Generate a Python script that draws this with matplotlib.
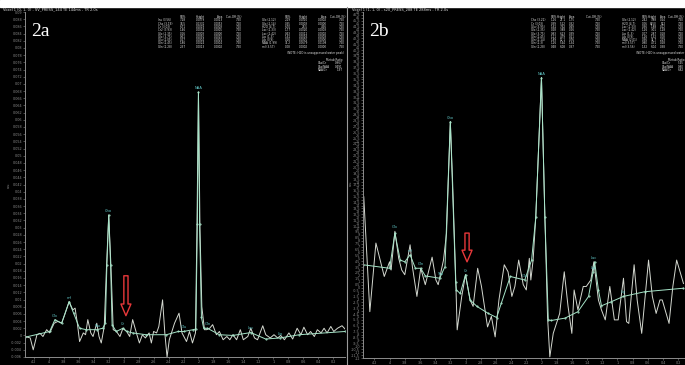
import matplotlib.pyplot as plt
import numpy as np

W, H = 685, 365

# ---------------- panel 2a ----------------
# raw spectrum (ppm, signal x 1e-3)
ppm_a = [4.32, 4.25, 4.21, 4.16, 4.12, 4.08, 4.03, 3.99, 3.93, 3.88, 3.83, 3.79, 3.73, 3.68,
         3.65, 3.62, 3.59, 3.54, 3.51, 3.48, 3.44, 3.41, 3.36, 3.33, 3.30, 3.26, 3.23, 3.20,
         3.17, 3.14, 3.10, 3.05, 3.01, 2.96, 2.92, 2.88, 2.83, 2.79, 2.75, 2.71, 2.66, 2.63,
         2.60, 2.56, 2.53, 2.48, 2.45, 2.42, 2.39, 2.32, 2.26, 2.22, 2.16, 2.12, 2.08, 2.04,
         2.02, 2.00, 1.98, 1.955, 1.92, 1.89, 1.85, 1.81, 1.76, 1.72, 1.67, 1.62, 1.58, 1.54,
         1.49, 1.44, 1.40, 1.34, 1.30, 1.25, 1.21, 1.14, 1.10, 1.04, 0.99, 0.94, 0.90, 0.85,
         0.79, 0.74, 0.68, 0.63, 0.59, 0.54, 0.50, 0.45, 0.41, 0.36, 0.32, 0.28, 0.23, 0.19,
         0.14, 0.08, 0.04]
raw_a = [-0.3, -0.7, -4.0, 0.2, 0.6, -0.3, 1.6, 0.7, 3.4, 3.9, 3.4, 5.7, 9.4, 7.1,
         7.6, 3.4, -1.7, 0.7, 0.2, 4.4, 0.7, -0.3, 3.4, -0.3, -2.1, 2.5, 19.0, 33.5,
         19.0, 1.6, 1.2, -0.3, 2.0, 1.1, -0.3, 4.4, 0.7, -2.1, 0.2, -0.7, 0.7, -2.1,
         1.1, 0.7, 2.5, 9.9, 0.7, -6.0, -1.2, 3.4, 6.2, 0.7, -1.7, 1.1, -2.1, 0.7,
         30.0, 67.7, 30.0, 8.0, 1.6, 1.6, 2.0, 3.0, 0.2, 1.1, -1.2, -0.3, -1.2, 0.2,
         -1.2, 1.6, -1.2, -0.3, 2.0, -0.7, -1.2, 2.7, 0.2, -0.7, 0.2, -0.7, 0.0, -1.2,
         0.7, -1.0, 2.0, 0.2, 2.3, 0.2, 1.1, -0.3, 1.6, 0.7, 2.0, 0.7, 2.5, 1.1,
         2.0, 2.7, 1.8]
# fitted spectrum
fit_ppm_a = [4.32, 3.99, 3.92, 3.83, 3.73, 3.67, 3.59, 3.50, 3.36, 3.28, 3.245, 3.225, 3.20,
             3.175, 3.155, 3.10, 3.01, 2.96, 2.88, 2.70, 2.43, 2.27, 2.20, 2.07, 2.035, 2.015,
             2.00, 1.985, 1.96, 1.93, 1.88, 1.72, 1.54, 1.30, 1.10, 0.91, 0.65, 0.04]
fit_a = [-0.5, 1.1, 4.4, 3.4, 9.4, 6.2, 2.0, 1.6, 1.6, 2.0, 3.5, 19.5, 33.5,
         19.5, 3.0, 1.1, 2.0, 1.1, 0.7, 0.2, 0.2, 1.1, 1.1, 1.6, 1.8, 31.0,
         67.7, 31.0, 5.0, 2.0, 2.0, 0.2, 0.0, 0.8, -1.0, -0.7, 0.2, 1.1]
lab_ppm_a = [3.92, 3.73, 3.36, 3.20, 3.01, 2.20, 2.00, 1.88, 1.30, 0.91]
lab_val_a = [4.4, 9.4, 1.6, 33.5, 2.0, 1.1, 67.7, 2.0, 0.8, -0.7]
lab_txt_a = ["Glx", "mI", "Tau", "Cho", "Cr", "Glu", "NAA", "Gln", "Lac", "Lip"]

# ---------------- panel 2b ----------------
ppm_b = [4.34, 4.26, 4.18, 4.07, 4.00, 3.98, 3.93, 3.88, 3.84, 3.80, 3.73, 3.70, 3.64, 3.59,
         3.53, 3.44, 3.39, 3.36, 3.29, 3.25, 3.23, 3.20, 3.17, 3.13, 3.11, 3.05, 3.00, 2.94,
         2.90, 2.84, 2.79, 2.71, 2.66, 2.61, 2.56, 2.49, 2.44, 2.39, 2.35, 2.30, 2.24, 2.20,
         2.16, 2.14, 2.11, 2.075, 2.00, 1.955, 1.92, 1.89, 1.845, 1.76, 1.70, 1.65, 1.60, 1.57,
         1.52, 1.45, 1.41, 1.35, 1.31, 1.25, 1.21, 1.16, 1.10, 1.04, 0.99, 0.92, 0.88, 0.85,
         0.78, 0.74, 0.68, 0.59, 0.54, 0.49, 0.44, 0.41, 0.32, 0.27, 0.22, 0.13]
raw_b = [15.5, -4.1, 7.6, 1.9, 4.4, 3.0, 9.6, 5.0, 3.0, 2.2, 7.3, 3.6, -1.5, 3.3,
         0.5, 5.2, 1.3, 0.5, 4.7, 9.3, 17.0, 28.3, 18.0, 1.9, -7.2, -1.5, 2.2, -2.1,
         -3.2, 3.3, 0.2, -6.7, -4.9, -8.4, -2.1, 3.9, 2.7, -1.5, 0.2, 4.7, 0.5, -0.4,
         5.0, 1.3, 4.7, 12.0, 35.8, 12.0, -5.0, -11.8, -7.8, -4.4, 2.7, -3.2, -7.8, -0.4,
         -3.8, 0.2, 0.2, 1.3, 4.4, -2.1, -3.8, -5.5, 0.2, -5.5, -5.5, 1.6, -5.8, -6.1,
         3.9, -2.1, -7.8, 4.7, -1.5, -4.4, -2.1, -2.1, -6.1, 0.2, 4.7, 0.7]
fit_ppm_b = [4.35, 4.00, 3.93, 3.86, 3.80, 3.73, 3.66, 3.59, 3.53, 3.34, 3.27, 3.20, 3.13,
             3.12, 3.07, 3.00, 2.94, 2.85, 2.70, 2.59, 2.53, 2.41, 2.22, 2.13, 2.075, 2.00,
             1.955, 1.91, 1.87, 1.69, 1.52, 1.38, 1.32, 1.30, 1.25, 1.21, 1.08, 0.92, 0.64, 0.13]
fit_b = [3.9, 3.3, 9.3, 4.7, 4.4, 5.6, 3.3, 3.3, 2.0, 1.6, 3.6, 28.3, 1.0,
         -0.4, -1.0, 2.2, -2.1, -3.2, -4.4, -5.1, -2.7, 1.9, 1.3, 4.7, 12.0, 35.8,
         12.0, -5.5, -5.6, -5.2, -4.1, -1.5, 2.7, 4.4, -0.4, -3.1, -2.4, -1.5, -0.7, -0.1]
lab_ppm_b = [3.93, 3.73, 3.59, 3.34, 3.20, 3.00, 2.22, 2.00, 1.31, 1.32, 0.92]
lab_val_b = [9.6, 5.6, 3.3, 1.6, 28.3, 2.2, 1.3, 35.8, 4.4, 2.7, -1.5]
lab_txt_b = ["Glx", "mI", "Gln", "Tau", "Cho", "Cr", "Glu", "NAA", "Lac", "Lip", "Lip"]

xticks = [4.2, 4.0, 3.8, 3.6, 3.4, 3.2, 3.0, 2.8, 2.6, 2.4, 2.2, 2.0, 1.8, 1.6, 1.4, 1.2,
          1.0, 0.8, 0.6, 0.4, 0.2]

# quantitation tables (text only)
tab_head = ["SD%", "Height", "Area", "Cut-Off (%)"]
tab_a1 = [["Ins (3.56)", "7.28", "0.0079", "0.0013", "7.50"],
          ["Cho (3.19)", "38.5", "0.0331", "0.0053", "7.50"],
          ["Cr (3.03)", "6.71", "0.0019", "0.0003", "7.50"],
          ["Cr2 (3.93)", "1.46", "0.0034", "0.0005", "7.50"],
          ["Glx (2.35)", "0.16", "0.0003", "0.0000", "7.50"],
          ["Glx (3.75)", "0.61", "0.0091", "0.0015", "7.50"],
          ["Glu (2.05)", "0.27", "0.0004", "0.0001", "7.50"],
          ["Gln (2.45)", "1.86", "0.0024", "0.0004", "7.50"],
          ["Gln (2.28)", "2.37", "0.0013", "0.0002", "7.50"]]
tab_a2 = [["Glx (2.12)", "2.19", "0.0010", "0.0002", "7.50"],
          ["Glx (2.14)", "0.35", "0.0003", "0.0000", "7.50"],
          ["H2O (4.7)", "6.70", "28.5", "4.56", "7.50"],
          ["Lac (1.33)", "1.77", "0.0020", "0.0003", "7.50"],
          ["Lac (1.42)", "0.43", "0.0012", "0.0002", "7.50"],
          ["Lip (1.3)", "1.61", "0.0016", "0.0003", "7.50"],
          ["Lip (0.9)", "0.16", "0.0001", "0.0000", "7.50"],
          ["NAA (1.99)", "35.2", "0.0679", "0.0108", "7.50"],
          ["ml (3.57)", "0.08", "0.0002", "0.0000", "7.50"]]
tab_b1 = [["Cho (3.21)", "1.16", "27.1", "1.75", "7.50"],
          ["Cr (3.03)", "0.39", "5.22", "0.32", "7.50"],
          ["Glu (3.95)", "1.61", "7.62", "0.49", "7.50"],
          ["Glx (2.35)", "0.28", "3.88", "0.26", "7.50"],
          ["Glx (3.75)", "0.83", "6.23", "0.39", "7.50"],
          ["Gln (2.45)", "1.11", "4.79", "0.21", "7.50"],
          ["Gln (2.14)", "1.89", "12.1", "0.76", "7.50"],
          ["Gln (2.3)", "1.26", "5.44", "1.34", "7.50"],
          ["Gln (2.28)", "0.48", "6.08", "0.37", "7.50"]]
tab_b2 = [["Glx (2.12)", "2.42", "3.88", "0.24", "7.50"],
          ["H2O (4.7)", "0.06", "8450", "522", "7.50"],
          ["Lac (1.33)", "0.36", "1.88", "0.12", "7.50"],
          ["Lac (1.42)", "1.26", "3.01", "1.28", "7.50"],
          ["Lip (1.3)", "0.07", "2.87", "0.18", "7.50"],
          ["Lip (0.9)", "1.26", "1.32", "0.08", "7.50"],
          ["NAA (2.01)", "0.36", "34.7", "2.19", "7.50"],
          ["ml (3.57)", "0.80", "4.71", "0.28", "7.50"],
          ["ml (3.56)", "1.32", "6.04", "0.38", "7.50"]]
ratio_names = ["Cho/Cr", "Cho/NAA", "NAA/Cr"]
ratio_a = ["0.967", "0.491", "1.97"]
ratio_b = ["5.45", "0.80", "6.82"]

raw_col = "#d4d8d0"
fit_col = "#a6e4c8"
lab_col = "#62c8c8"
axis_col = "#8c8c8c"
txt_col = "#e4e4e4"
tfs = 2.0


def px(x, y):
    return x / W, 1 - y / H


def panel(rect, ppm, raw, fppm, fit, lppm, lval, ltxt, xlim, ylim, yticks, arrow):
    ax = fig.add_axes(rect)
    ax.set_facecolor("black")
    ax.plot(ppm, raw, color=raw_col, lw=0.7)
    ax.plot(fppm, fit, color=fit_col, lw=0.7, marker="o", ms=0.5, mec=fit_col, mfc=fit_col)
    for xx, yy, tt in zip(lppm, lval, ltxt):
        ax.annotate(tt, (xx, yy), xytext=(0, 1.5), textcoords="offset points",
                    ha="center", va="bottom", fontsize=2.6, color=lab_col)
    ax.annotate("", xy=(arrow[0], arrow[2]), xytext=(arrow[0], arrow[1]),
                arrowprops=dict(arrowstyle="simple,head_length=1.4,head_width=1.2,tail_width=0.5",
                                fc="none", ec="#e8383a", lw=1.0, mutation_scale=6,
                                shrinkA=0, shrinkB=0))
    ax.set_xlim(*xlim)
    ax.set_ylim(*ylim)
    ax.set_xticks(xticks)
    ax.set_xticklabels(["%g" % t for t in xticks])
    ax.set_yticks(yticks)
    ax.set_yticklabels(["%g" % t for t in yticks])
    ax.tick_params(colors=axis_col, labelsize=2.4, length=1.2, width=0.4, pad=1)
    for s in ["top", "right"]:
        ax.spines[s].set_visible(False)
    for s in ["left", "bottom"]:
        ax.spines[s].set_color(axis_col)
        ax.spines[s].set_linewidth(0.7)
    return ax


def table(x0, y0, cols, rows, head):
    for j, h in enumerate(head):
        fig.text(*px(cols[j], y0), h, fontsize=tfs, color=txt_col, ha="right", va="center")
    for i, r in enumerate(rows):
        yy = y0 + 3.4 + i * 3.3
        fig.text(*px(x0, yy), r[0], fontsize=tfs, color=txt_col, ha="left", va="center")
        for j in range(4):
            fig.text(*px(cols[j], yy), r[j + 1], fontsize=tfs, color=txt_col, ha="right", va="center")


def ratios(x0, x1, y0, vals):
    fig.text(*px(x1, y0), "Metab Ratio", fontsize=tfs, color=txt_col, va="center", ha="right")
    for i, (n, v) in enumerate(zip(ratio_names, vals)):
        fig.text(*px(x0, y0 + 3.5 + i * 3.3), n, fontsize=tfs, color=txt_col, va="center")
        fig.text(*px(x1, y0 + 3.5 + i * 3.3), v, fontsize=tfs, color=txt_col, va="center", ha="right")


fig = plt.figure(figsize=(W / 100, H / 100), dpi=100, facecolor="black")

# top white strip and separator between the two screenshots
fig.patches.append(plt.Rectangle((0, 1 - 7 / H), 1, 7 / H, transform=fig.transFigure,
                                 color="white", zorder=0))
fig.lines.append(plt.Line2D([347 / W, 347 / W], [0, 1 - 7 / H], transform=fig.transFigure,
                            color="#9a9a9a", lw=0.8))

yt_a = [round(-0.006 + 0.002 * i, 3) for i in range(49)]
ax_a = panel([25 / W, 8 / H, 320 / W, 345 / H], ppm_a, [v / 1000 for v in raw_a],
             fit_ppm_a, [v / 1000 for v in fit_a], lab_ppm_a, [v / 1000 for v in lab_val_a],
             lab_txt_a, (4.32, 0.04), (-0.006, 0.09), yt_a, (2.97, 0.0166, 0.0055))

yt_b = [round(-12 + 0.5 * i, 1) for i in range(119)]
ax_b = panel([363 / W, 7 / H, 322 / W, 346 / H], ppm_b, raw_b, fit_ppm_b, fit_b,
             lab_ppm_b, lab_val_b, lab_txt_b, (4.35, 0.11), (-12, 47), yt_b,
             (2.98, 9.3, 4.4))

# panel headers
fig.text(*px(3, 9.5), "Voxel 1 (0, 1, 0) - SV_PRESS_144 TE 144ms - TR 2.0s",
         fontsize=2.6, color=txt_col, va="center")
fig.text(*px(352, 9.5), "Voxel 1 (1, 1, 0) - s20_PRESS_288 TE 288ms - TR 2.0s",
         fontsize=2.6, color=txt_col, va="center")
fig.text(*px(31, 36), "2a", fontsize=14, color="white", family="Liberation Serif")
fig.text(*px(369, 36), "2b", fontsize=14, color="white", family="Liberation Serif")
fig.text(*px(9, 185), "a.u.", fontsize=2.4, color=axis_col, rotation=90, ha="center", va="center")
fig.text(*px(351, 183), "a.u.", fontsize=2.4, color=axis_col, rotation=90, ha="center", va="center")

# quantitation tables
table(158, 17, [186, 205, 223, 242], tab_a1, tab_head)
table(262, 17, [291, 308, 327, 345], tab_a2, tab_head)
fig.text(*px(287, 53), "(NOTE: H2O is unsuppressed water peak)", fontsize=tfs, color=txt_col, va="center")
ratios(318, 343, 60, ratio_a)

table(531, 17, [557, 566, 575, 601], tab_b1, tab_head)
table(622, 17, [648, 657, 666, 684], tab_b2, tab_head)
fig.text(*px(684, 53), "(NOTE: H2O is unsuppressed water", fontsize=tfs, color=txt_col,
         va="center", ha="right")
ratios(662, 684, 60, ratio_b)

fig.savefig("out.png", dpi=100, facecolor="black")
